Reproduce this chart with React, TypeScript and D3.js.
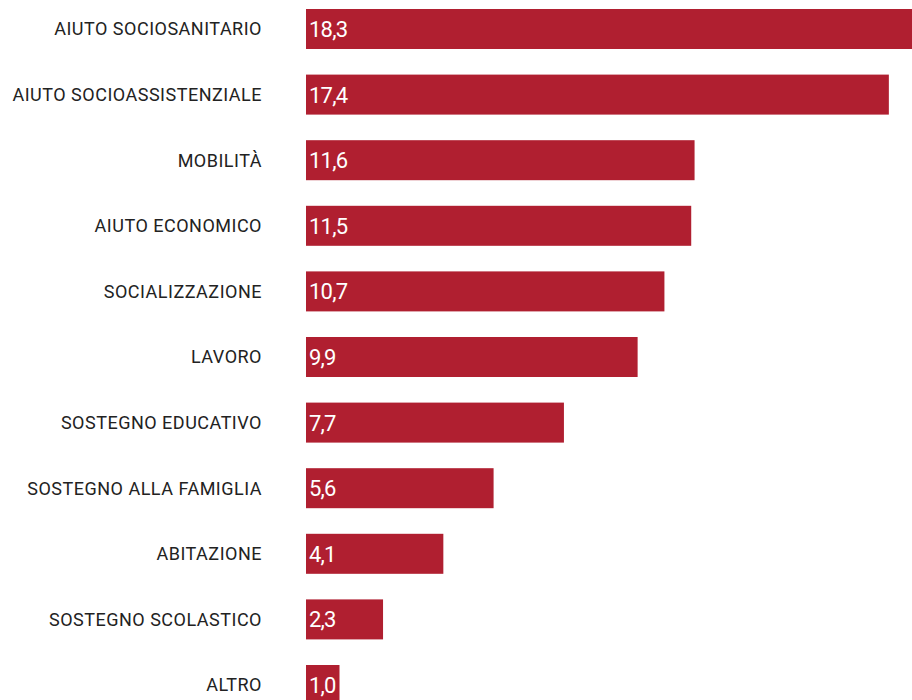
import React from "react";
import * as d3 from "d3";

const categories = [
  "AIUTO SOCIOSANITARIO",
  "AIUTO SOCIOASSISTENZIALE",
  "MOBILITÀ",
  "AIUTO ECONOMICO",
  "SOCIALIZZAZIONE",
  "LAVORO",
  "SOSTEGNO EDUCATIVO",
  "SOSTEGNO ALLA FAMIGLIA",
  "ABITAZIONE",
  "SOSTEGNO SCOLASTICO",
  "ALTRO",
];
const values = [18.3, 17.4, 11.6, 11.5, 10.7, 9.9, 7.7, 5.6, 4.1, 2.3, 1.0];

const W = 912;
const H = 700;

export default function App() {
  const x = d3.scaleLinear().domain([0, 18.3]).range([306, 919]);
  const y = d3
    .scaleBand<string>()
    .domain(categories)
    .range([9, 9 + 10 * 65.6 + 40])
    .paddingInner(25.6 / 65.6)
    .paddingOuter(0);
  const fmt = (v: number) => v.toFixed(1).replace(".", ",");
  return (
    <svg
      width={W}
      height={H}
      style={{ position: "absolute", left: 0, top: 0, background: "#fff" }}
    >
      {categories.map((c, i) => {
        const yy = y(c)!;
        const bh = y.bandwidth();
        return (
          <g key={c}>
            <rect x={x(0)} y={yy} width={x(values[i]) - x(0)} height={bh} fill="#B01F30" />
            <text
              x={262}
              y={yy + bh / 2}
              dy="0.36em"
              textAnchor="end"
              fontFamily="Roboto, sans-serif"
              fontSize={18}
              fill="#222"
              letterSpacing={0.5}
            >
              {c}
            </text>
            <text
              x={x(0) + 3}
              y={yy + bh / 2}
              dy="0.36em"
              fontFamily="Roboto, sans-serif"
              fontSize={22}
              fill="#fff"
              letterSpacing={-0.8}
            >
              {fmt(values[i])}
            </text>
          </g>
        );
      })}
    </svg>
  );
}
